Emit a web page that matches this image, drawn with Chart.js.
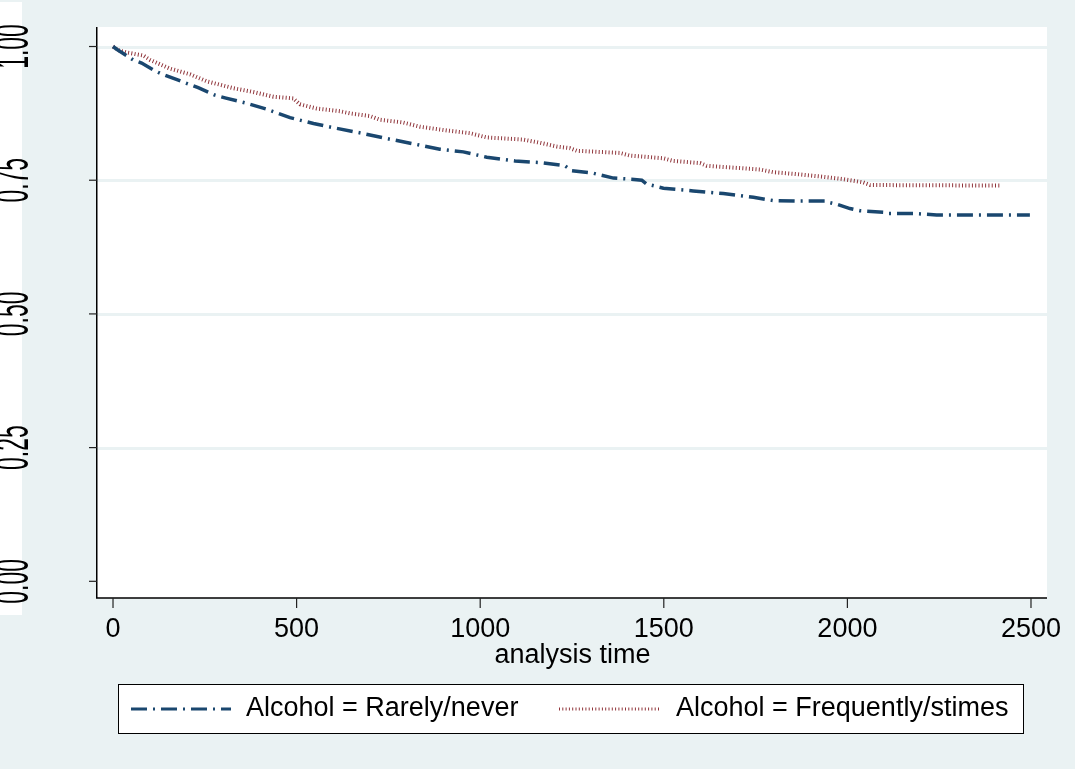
<!DOCTYPE html>
<html>
<head>
<meta charset="utf-8">
<script src="https://cdn.jsdelivr.net/npm/chart.js@4/dist/chart.umd.min.js"></script>
<style>
  html, body { margin: 0; padding: 0; background: #eaf2f3; }
  #wrap { width: 1075px; height: 769px; position: relative; }
</style>
</head>
<body>
<div id="wrap"><canvas id="km" width="1075" height="769"></canvas></div>
<script>
// Kaplan-Meier survival estimates by alcohol group
const rarelyTime = [0, 10, 28, 55, 78, 110, 128, 178, 232, 278, 305, 364, 418, 482, 546, 609, 677, 745, 818, 890, 954, 1018, 1095, 1163, 1231, 1249, 1308, 1363, 1412, 1440, 1453, 1499, 1580, 1662, 1744, 1798, 1866, 1943, 1953, 1971, 2007, 2034, 2102, 2111, 2179, 2243, 2497];
const rarelySurv = [1.000, 0.995, 0.987, 0.975, 0.969, 0.956, 0.950, 0.937, 0.923, 0.909, 0.904, 0.894, 0.883, 0.867, 0.856, 0.847, 0.838, 0.828, 0.818, 0.808, 0.803, 0.793, 0.786, 0.783, 0.777, 0.768, 0.763, 0.754, 0.752, 0.750, 0.743, 0.735, 0.730, 0.725, 0.718, 0.712, 0.711, 0.711, 0.708, 0.705, 0.697, 0.693, 0.690, 0.688, 0.688, 0.685, 0.685];

const freqTime = [0, 15, 37, 83, 101, 154, 210, 255, 328, 382, 437, 491, 509, 555, 618, 645, 700, 727, 790, 836, 909, 972, 1018, 1117, 1163, 1208, 1244, 1263, 1381, 1408, 1499, 1526, 1599, 1617, 1762, 1798, 1853, 1925, 1989, 2043, 2062, 2420];
const freqSurv = [1.000, 0.993, 0.989, 0.983, 0.975, 0.959, 0.948, 0.935, 0.922, 0.915, 0.906, 0.903, 0.892, 0.884, 0.879, 0.875, 0.870, 0.863, 0.858, 0.850, 0.843, 0.838, 0.830, 0.826, 0.820, 0.813, 0.810, 0.805, 0.801, 0.796, 0.791, 0.786, 0.782, 0.777, 0.770, 0.765, 0.762, 0.757, 0.752, 0.746, 0.741, 0.740];

const xTickValues = [0, 500, 1000, 1500, 2000, 2500];
const yTickValues = [0, 0.25, 0.5, 0.75, 1];
const yTickLabels = ['0.00', '0.25', '0.50', '0.75', '1.00'];
const seriesNames = ['Alcohol = Rarely/never', 'Alcohol = Frequently/stimes'];
const xAxisTitle = 'analysis time';

const NAVY = '#1a476f';
const MAROON = '#90353b';
const BG = '#eaf2f3';
const FONT = '"Liberation Sans", Arial, Helvetica, sans-serif';
const BLUE_DASH = [16, 6, 2, 6];
const RED_DASH = [1, 2.3];

function toPoints(ts, ss) { return ts.map((t, i) => ({ x: t, y: ss[i] })); }

// Stata-like frame: background, plot region, grid, axes, ticks, labels, legend
const stataFrame = {
  id: 'stataFrame',
  beforeDraw(chart) {
    const { ctx, chartArea: a } = chart;
    ctx.save();
    ctx.fillStyle = BG;
    ctx.fillRect(0, 0, chart.width, chart.height);
    ctx.fillStyle = '#ffffff';
    ctx.fillRect(0, 2, 22, 613);
    ctx.fillRect(a.left, a.top, a.right - a.left, a.bottom - a.top);
    ctx.restore();
  },
  beforeDatasetsDraw(chart) {
    const { ctx, chartArea: a, scales: { y } } = chart;
    ctx.save();
    ctx.strokeStyle = BG;
    ctx.lineWidth = 3;
    yTickValues.forEach(v => {
      if (v === 0) return;
      const py = Math.round(y.getPixelForValue(v)) + 0.5;
      ctx.beginPath();
      ctx.moveTo(a.left, py);
      ctx.lineTo(a.right, py);
      ctx.stroke();
    });
    ctx.restore();
  },
  afterDraw(chart) {
    const { ctx, chartArea: a, scales: { x, y } } = chart;
    ctx.save();
    // axis lines
    ctx.strokeStyle = '#000';
    ctx.lineWidth = 1.5;
    ctx.beginPath();
    ctx.moveTo(a.left - 0.25, a.top);
    ctx.lineTo(a.left - 0.25, a.bottom);
    ctx.lineTo(a.right, a.bottom);
    ctx.stroke();
    // ticks
    ctx.lineWidth = 1.2;
    ctx.strokeStyle = '#222';
    yTickValues.forEach(v => {
      const py = y.getPixelForValue(v);
      ctx.beginPath();
      ctx.moveTo(a.left - 8, py);
      ctx.lineTo(a.left, py);
      ctx.stroke();
    });
    xTickValues.forEach(v => {
      const px = x.getPixelForValue(v);
      ctx.beginPath();
      ctx.moveTo(px, a.bottom);
      ctx.lineTo(px, a.bottom + 10);
      ctx.stroke();
    });
    // x tick labels and title
    ctx.fillStyle = '#000';
    ctx.font = '27px ' + FONT;
    ctx.textAlign = 'center';
    ctx.textBaseline = 'middle';
    xTickValues.forEach(v => {
      ctx.fillText(String(v), x.getPixelForValue(v), 630);
    });
    ctx.fillText(xAxisTitle, (a.left + a.right) / 2 + 0.5, 656);
    // rotated y tick labels, running off the left edge
    yTickValues.forEach((v, i) => {
      ctx.save();
      ctx.translate(28, y.getPixelForValue(v));
      ctx.rotate(-Math.PI / 2);
      ctx.scale(0.85, 1.8);
      ctx.textAlign = 'center';
      ctx.textBaseline = 'alphabetic';
      ctx.fillText(yTickLabels[i], 0, 0);
      ctx.restore();
    });
    // legend
    const lx = 118.5, ly = 684.5, lw = 905, lh = 49, cy = ly + lh / 2;
    ctx.fillStyle = '#fff';
    ctx.fillRect(lx, ly, lw, lh);
    ctx.strokeStyle = '#000';
    ctx.lineWidth = 1;
    ctx.strokeRect(lx, ly, lw, lh);
    ctx.lineWidth = 3;
    ctx.strokeStyle = NAVY;
    ctx.setLineDash(BLUE_DASH);
    ctx.beginPath(); ctx.moveTo(131, cy); ctx.lineTo(231, cy); ctx.stroke();
    ctx.strokeStyle = MAROON;
    ctx.setLineDash(RED_DASH);
    ctx.beginPath(); ctx.moveTo(559, cy); ctx.lineTo(660, cy); ctx.stroke();
    ctx.setLineDash([]);
    ctx.fillStyle = '#000';
    ctx.textAlign = 'left';
    ctx.textBaseline = 'middle';
    ctx.fillText(seriesNames[0], 246, cy);
    ctx.fillText(seriesNames[1], 676, cy);
    ctx.restore();
  }
};

new Chart(document.getElementById('km'), {
  type: 'line',
  data: {
    datasets: [
      {
        label: seriesNames[0],
        data: toPoints(rarelyTime, rarelySurv),
        borderColor: NAVY,
        borderWidth: 3.5,
        borderDash: BLUE_DASH,
        pointRadius: 0,
        fill: false
      },
      {
        label: seriesNames[1],
        data: toPoints(freqTime, freqSurv),
        borderColor: MAROON,
        borderWidth: 4,
        borderDash: RED_DASH,
        pointRadius: 0,
        fill: false
      }
    ]
  },
  options: {
    responsive: false,
    devicePixelRatio: 1,
    animation: false,
    layout: { padding: { left: 97, right: 28, top: 27, bottom: 171 } },
    scales: {
      x: { type: 'linear', min: -43.6, max: 2543.6, display: false },
      y: { type: 'linear', min: -0.0312, max: 1.0365, display: false }
    },
    plugins: { legend: { display: false }, tooltip: { enabled: false } }
  },
  plugins: [stataFrame]
});
</script>
</body>
</html>
